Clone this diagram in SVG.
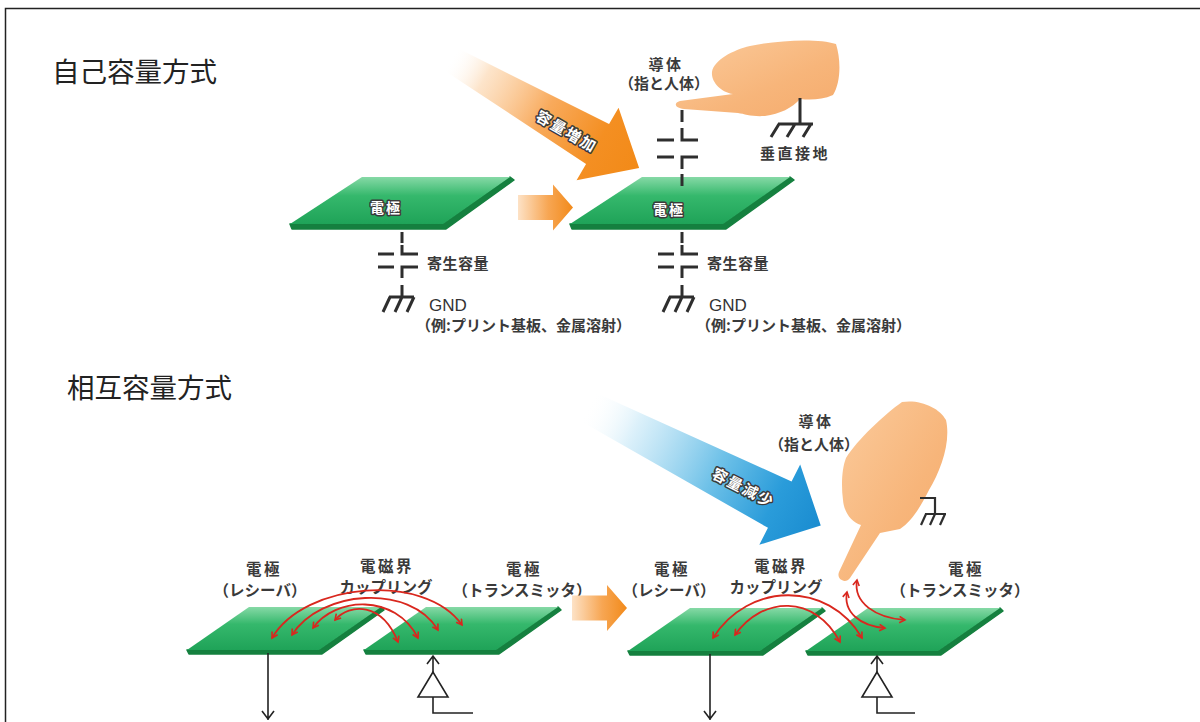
<svg xmlns="http://www.w3.org/2000/svg" width="1200" height="722" viewBox="0 0 1200 722">
<style>
  .title{font-family:"Noto Sans CJK JP","Noto Sans CJK SC",sans-serif;font-size:27.5px;fill:#222}
  .lbl{font-family:"Noto Sans CJK JP","Noto Sans CJK SC",sans-serif;font-size:15px;font-weight:bold;fill:#3a3a3a}
  .big{font-size:15.5px}
  .kanji{letter-spacing:2.5px}
  .gnd{font-family:"Liberation Sans",Arial,sans-serif;font-size:17px;fill:#333}
  .onplate{font-family:"Noto Sans CJK JP","Noto Sans CJK SC",sans-serif;font-size:14px;font-weight:bold;fill:#fff;stroke:#3a3a3a;stroke-width:3;paint-order:stroke;stroke-linejoin:round;letter-spacing:2px}
  .onarrow{font-family:"Noto Sans CJK JP","Noto Sans CJK SC",sans-serif;font-size:15px;font-weight:bold;fill:#fff;stroke:#3a3a3a;stroke-width:3;paint-order:stroke;stroke-linejoin:round;letter-spacing:2px}
  .wire{fill:none;stroke:#2e2e2e;stroke-width:3}
  .thin{fill:none;stroke:#222;stroke-width:1.6}
  .field{fill:none;stroke:#d9271e;stroke-width:1.8;marker-start:url(#rh);marker-end:url(#rh)}
  .edge{fill:#15803f;stroke:#15803f;stroke-width:1.5;stroke-linejoin:round}
  .face{fill:url(#gFace)}
  .hand{fill:url(#gHand)}
</style>
<defs>
  <linearGradient id="gFace" x1="0" y1="0" x2="0" y2="1">
    <stop offset="0" stop-color="#86d9a6"/>
    <stop offset="0.4" stop-color="#35b86c"/>
    <stop offset="1" stop-color="#1fa358"/>
  </linearGradient>
  <linearGradient id="gOrangeSmall" x1="0" y1="0" x2="1" y2="0">
    <stop offset="0" stop-color="#fde2c6"/>
    <stop offset="0.55" stop-color="#f7a653"/>
    <stop offset="1" stop-color="#f28a1a"/>
  </linearGradient>
  <linearGradient id="gOrangeBig" x1="0" y1="0" x2="1" y2="0">
    <stop offset="0" stop-color="#ffffff" stop-opacity="0"/>
    <stop offset="0.18" stop-color="#fcd9b4" stop-opacity="0.7"/>
    <stop offset="0.5" stop-color="#f8aa5c"/>
    <stop offset="0.78" stop-color="#f48f22"/>
    <stop offset="1" stop-color="#f28a18"/>
  </linearGradient>
  <linearGradient id="gBlue" x1="0" y1="0" x2="1" y2="0">
    <stop offset="0" stop-color="#ffffff" stop-opacity="0"/>
    <stop offset="0.2" stop-color="#d3edf9" stop-opacity="0.8"/>
    <stop offset="0.55" stop-color="#6ec1e8"/>
    <stop offset="0.8" stop-color="#2a9cda"/>
    <stop offset="1" stop-color="#1a8cd0"/>
  </linearGradient>
  <linearGradient id="gHand" x1="0" y1="0" x2="1" y2="1">
    <stop offset="0" stop-color="#fbcb9c"/>
    <stop offset="0.6" stop-color="#f7b57a"/>
    <stop offset="1" stop-color="#f5ab6c"/>
  </linearGradient>
  <marker id="rh" viewBox="0 0 10 10" refX="8" refY="5" markerWidth="8" markerHeight="8" markerUnits="userSpaceOnUse" orient="auto-start-reverse">
    <path d="M1,1 L8,5 L1,9" fill="none" stroke="#d9271e" stroke-width="2"/>
  </marker>
  <!-- electrode plate, upper section (origin = front-left corner) -->
  <g id="plateTop">
    <polygon class="edge" points="0,0 153,0 220,-47 224,-44 156,5 2,5"/>
    <polygon class="face" points="0,0 153,0 220,-47 72,-47"/>
  </g>
  <!-- electrode plate, lower section -->
  <g id="plateBot">
    <polygon class="edge" points="0,0 132,0 194,-43 197,-40 135,4 2,4"/>
    <polygon class="face" points="0,0 132,0 194,-43 62,-43"/>
  </g>
  <polygon id="smallArrow" fill="url(#gOrangeSmall)" points="0,-12.5 35,-12.5 35,-23 55,0 35,23 35,12.5 0,12.5"/>
</defs>

<!-- frame -->
<path d="M5.5,722 V8.5 H1200" fill="none" stroke="#222" stroke-width="1.5"/>

<!-- ===== self-capacitance ===== -->
<text class="title" x="52" y="82">自己容量方式</text>

<g id="arrow-increase" transform="translate(459,64) rotate(30)">
  <polygon fill="url(#gOrangeBig)" points="-10,-13 160,-23 160,-42 208,0 160,42 160,23 -10,13"/>
  <text class="onarrow" x="127" y="10" text-anchor="middle">容量増加</text>
</g>

<g id="electrode-1">
  <use href="#plateTop" x="290" y="224"/>
  <text class="onplate" x="386" y="213" text-anchor="middle">電極</text>
</g>

<g id="arrow-step-1">
  <use href="#smallArrow" x="518" y="207.5"/>
</g>

<g id="electrode-2">
  <use href="#plateTop" x="570" y="224"/>
  <text class="onplate" x="669" y="215" text-anchor="middle">電極</text>
</g>

<g id="conductor-1">
  <path class="hand" d="M750,46 C778,40 818,38 836,44 C841,60 841,82 833,95 C822,100 810,100 800,99 C792,108 780,114 765,116 C752,117 745,114 738,113 L684,109 C675,108 673,103 680,101 L733,94 C721,92 711,82 712,72 C714,60 733,50 750,46 Z"/>
  <text class="lbl kanji" x="666" y="70" text-anchor="middle">導体</text>
  <text class="lbl" x="664" y="89" text-anchor="middle">（指と人体）</text>
</g>

<g id="earth-1">
  <path class="wire" d="M800,98 V124 M778,124 H813 M779,124 L771,137 M795,124 L787,137 M811,124 L803,137"/>
  <text class="lbl kanji" x="795" y="159" text-anchor="middle">垂直接地</text>
</g>

<g id="parasitic-1">
  <path class="wire" d="M402,232 V243 M402,245 V254 H418 M378,254 H394 M378,267 H394 M402,278 V267 H418"/>
  <path class="wire" d="M402,285 V297 M389,297 H414 M390,297 L383,312 M402,297 L395,312 M414,297 L407,312"/>
  <text class="lbl" x="427" y="269" letter-spacing="0.5">寄生容量</text>
  <text class="gnd" x="429" y="311">GND</text>
  <text class="lbl" x="416" y="331">（例:プリント基板、金属溶射）</text>
</g>

<g id="parasitic-2">
  <path class="wire" d="M682,232 V243 M682,245 V254 H698 M658,254 H674 M658,267 H674 M682,278 V267 H698"/>
  <path class="wire" d="M682,285 V297 M669,297 H694 M670,297 L663,312 M682,297 L675,312 M694,297 L687,312"/>
  <text class="lbl" x="707" y="269" letter-spacing="0.5">寄生容量</text>
  <text class="gnd" x="709" y="311">GND</text>
  <text class="lbl" x="696" y="331">（例:プリント基板、金属溶射）</text>
</g>

<g id="touch-capacitance">
  <path class="wire" d="M682,110 V122 M682,128 V140 H698 M657,140 H674 M657,157 H674 M682,169 V157 H698 M682,174 V186"/>
</g>

<!-- ===== mutual capacitance ===== -->
<text class="title" x="67" y="398">相互容量方式</text>

<g id="arrow-decrease" transform="translate(598,412) rotate(27)">
  <polygon fill="url(#gBlue)" points="-12,-16 204,-26 204,-45 250,0 204,45 204,26 -12,16"/>
  <text class="onarrow" x="164" y="7" text-anchor="middle">容量減少</text>
</g>

<g id="conductor-2">
  <path class="hand" d="M902,402 C920,399 940,408 946,420 C951,442 941,470 929,490 C921,506 912,521 900,529 L880,533 L850,578 C846,584 836,580 839,572 L861,525 C851,522 844,512 843,500 C841,485 842,468 846,458 C857,440 885,414 902,402 Z"/>
  <text class="lbl kanji" x="816" y="427" text-anchor="middle">導体</text>
  <text class="lbl" x="814" y="450" text-anchor="middle">（指と人体）</text>
  <path fill="none" stroke="#2e2e2e" stroke-width="2.2" d="M920,498 H935 V514 M925,514 H946 M926,514 L921,525 M935,514 L930,525 M945,514 L940,525"/>
</g>

<!-- receiver / transmitter pair, no touch -->
<g id="rx-1">
  <use href="#plateBot" x="187" y="650"/>
  <text class="lbl big kanji" x="264" y="575" text-anchor="middle">電極</text>
  <text class="lbl big" x="260" y="596" text-anchor="middle">（レシーバ）</text>
  <path class="thin" d="M268,653 V720 M262,711 L268,719 L274,711"/>
</g>
<g id="tx-1">
  <use href="#plateBot" x="364" y="650"/>
  <text class="lbl big kanji" x="524" y="575" text-anchor="middle">電極</text>
  <text class="lbl big" x="522" y="596" text-anchor="middle">（トランスミッタ）</text>
  <path class="thin" d="M433,672 V656 M427,664 L433,656 L439,664"/>
  <polygon class="thin" fill="#fff" points="433,672 418,697 448,697"/>
  <path class="thin" d="M433,697 V713 H473"/>
</g>
<text class="lbl big kanji" x="387" y="572" text-anchor="middle">電磁界</text>
<text class="lbl big" x="386" y="593" text-anchor="middle">カップリング</text>

<g id="arrow-step-2">
  <use href="#smallArrow" x="572" y="608"/>
</g>

<!-- receiver / transmitter pair, touched -->
<g id="rx-2">
  <use href="#plateBot" x="628" y="651"/>
  <text class="lbl big kanji" x="672" y="575" text-anchor="middle">電極</text>
  <text class="lbl big" x="669" y="596" text-anchor="middle">（レシーバ）</text>
  <path class="thin" d="M710,654 V720 M704,711 L710,719 L716,711"/>
</g>
<g id="tx-2">
  <use href="#plateBot" x="806" y="651"/>
  <text class="lbl big kanji" x="966" y="575" text-anchor="middle">電極</text>
  <text class="lbl big" x="960" y="596" text-anchor="middle">（トランスミッタ）</text>
  <path class="thin" d="M877,672 V656 M871,664 L877,656 L883,664"/>
  <polygon class="thin" fill="#fff" points="877,672 862,697 892,697"/>
  <path class="thin" d="M877,697 V713 H915"/>
</g>
<text class="lbl big kanji" x="781" y="572" text-anchor="middle">電磁界</text>
<text class="lbl big" x="776" y="593" text-anchor="middle">カップリング</text>

<!-- field coupling arcs -->
<g id="connectors">
  <path class="field" d="M272,638 C305,582 425,572 462,625"/>
  <path class="field" d="M292,635 C320,590 410,583 438,630"/>
  <path class="field" d="M313,628 C335,597 395,593 418,638"/>
  <path class="field" d="M335,620 C350,603 382,602 398,642"/>
  <path class="field" d="M713,638 C748,582 828,580 862,638"/>
  <path class="field" d="M735,635 C762,596 815,594 840,642"/>
  <path class="field" d="M847,592 C843,612 860,626 885,628"/>
  <path class="field" d="M857,580 C853,603 876,618 905,620"/>
</g>
</svg>
